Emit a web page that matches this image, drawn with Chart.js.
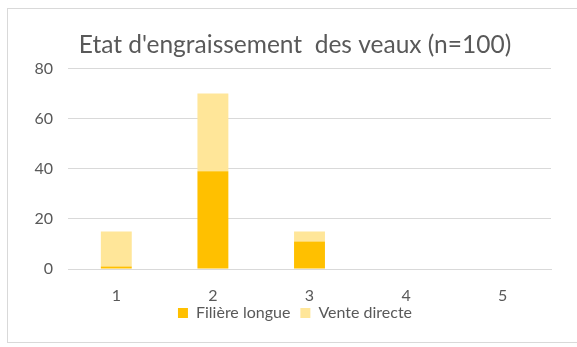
<!DOCTYPE html>
<html>
<head>
<meta charset="utf-8">
<script src="https://cdn.jsdelivr.net/npm/chart.js@4/dist/chart.umd.min.js"></script>
<style>
  html, body { margin: 0; padding: 0; background: #fff; }
  #frame {
    position: absolute; left: 7px; top: 8px; width: 580px; height: 335px;
    border: 1px solid #d9d9d9; box-sizing: border-box;
  }
  #wrap { position: absolute; left: 0; top: 0; width: 577px; height: 347px; }
</style>
</head>
<body>
<div id="frame"></div>
<div id="wrap"><canvas id="myChart"></canvas></div>
<script>
  // categories and counts per selling channel
  var categories = ["1", "2", "3", "4", "5"];
  var filiereLongue = [1, 39, 11, 0, 0];
  var venteDirecte = [14, 31, 4, 0, 0];
  var yTicks = [0, 20, 40, 60, 80];

  var grey = "#595959";
  var tickFont = { family: "Lato", size: 16 };

  // the x axis is kept short so the legend sits right under it;
  // widen its label clip box back out so the labels still show
  var unclipLabels = {
    id: "unclipLabels",
    afterLayout: function (chart) {
      chart.scales.x.bottom = chart.height;
      chart.scales.y.left = 0;
    },
  };

  var ctx = document.getElementById("myChart").getContext("2d");
  new Chart(ctx, {
    type: "bar",
    data: {
      labels: categories,
      datasets: [
        {
          label: "Filière longue",
          data: filiereLongue,
          backgroundColor: "#ffc000",
          barPercentage: 0.64,
          categoryPercentage: 0.5,
        },
        {
          label: "Vente directe",
          data: venteDirecte,
          backgroundColor: "#ffe699",
          barPercentage: 0.64,
          categoryPercentage: 0.5,
        },
      ],
    },
    plugins: [unclipLabels],
    options: {
      responsive: true,
      maintainAspectRatio: false,
      animation: false,
      layout: { padding: { left: 39, right: 26, top: 30, bottom: 16 } },
      plugins: {
        title: {
          display: true,
          text: "Etat d'engraissement  des veaux (n=100)",
          color: grey,
          font: { family: "Lato", size: 24.5, weight: "normal" },
          padding: { top: 0, bottom: 9 },
        },
        legend: {
          position: "bottom",
          labels: {
            color: grey,
            font: tickFont,
            boxWidth: 10,
            boxHeight: 10,
            padding: 10,
          },
        },
        tooltip: { enabled: false },
      },
      scales: {
        x: {
          stacked: true,
          grid: { display: false },
          border: { color: "#d9d9d9" },
          ticks: { color: grey, font: tickFont, padding: 9 },
          afterFit: function (axis) {
            axis.height = 26;
          },
        },
        y: {
          stacked: true,
          min: 0,
          max: 80,
          afterBuildTicks: function (axis) {
            axis.ticks = yTicks.map(function (v) { return { value: v }; });
          },
          afterFit: function (axis) {
            axis.width = 29;
          },
          grid: { color: "#d9d9d9", lineWidth: 1, tickLength: 0, drawTicks: false },
          border: { display: false },
          ticks: { color: grey, font: tickFont, padding: 15 },
        },
      },
    },
  });
</script>
</body>
</html>
